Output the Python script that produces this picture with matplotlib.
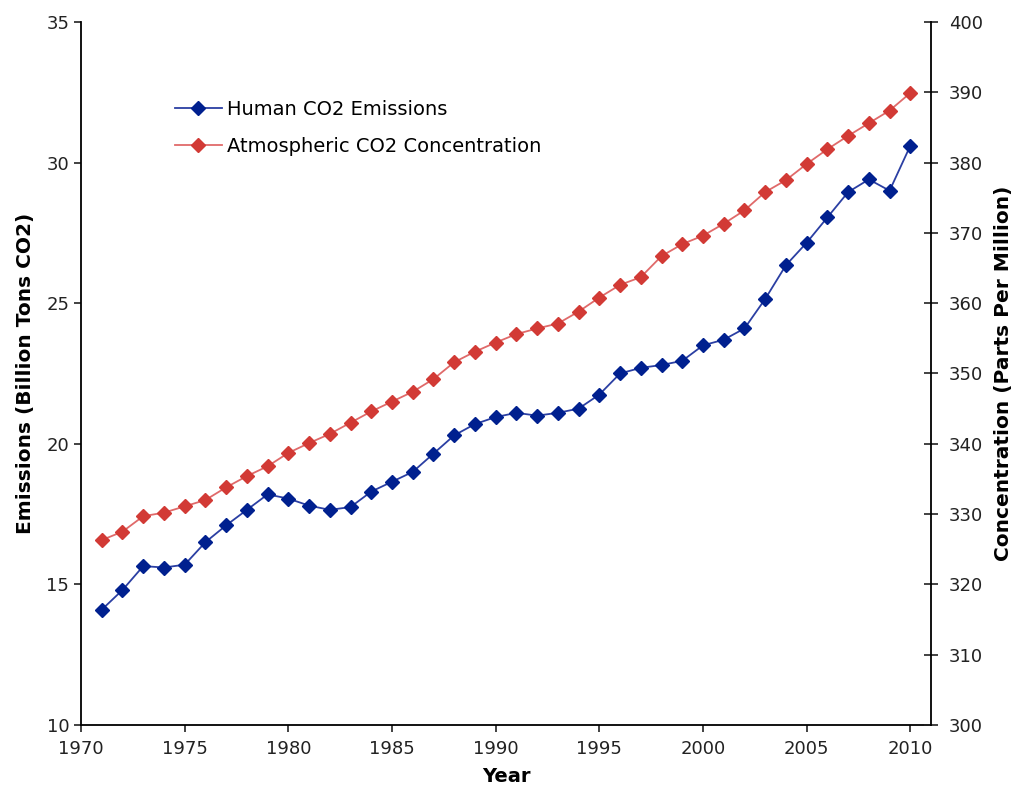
import matplotlib
matplotlib.use("Agg")
import matplotlib.pyplot as plt

years = list(range(1971, 2011))
emissions = [14.1, 14.8, 15.65, 15.6, 15.7, 16.5, 17.1, 17.65, 18.2, 18.05,
             17.8, 17.65, 17.75, 18.3, 18.65, 19.0, 19.65, 20.3, 20.7, 20.95,
             21.1, 21.0, 21.1, 21.25, 21.75, 22.5, 22.7, 22.8, 22.95, 23.5,
             23.7, 24.1, 25.15, 26.35, 27.15, 28.05, 28.95, 29.4, 29.0, 30.6]
concentration = [326.3, 327.5, 329.7, 330.2, 331.1, 332.0, 333.8, 335.4, 336.8, 338.7,
                 340.1, 341.4, 343.0, 344.6, 346.0, 347.4, 349.2, 351.6, 353.1, 354.4,
                 355.6, 356.4, 357.1, 358.8, 360.8, 362.6, 363.7, 366.7, 368.4, 369.6,
                 371.3, 373.2, 375.8, 377.5, 379.8, 381.9, 383.8, 385.6, 387.4, 389.9]
x_ticks = [1970, 1975, 1980, 1985, 1990, 1995, 2000, 2005, 2010]
left_ticks = [10, 15, 20, 25, 30, 35]
right_ticks = [300, 310, 320, 330, 340, 350, 360, 370, 380, 390, 400]

plt.rcParams['font.family'] = ['DejaVu Sans']
fig = plt.figure(figsize=(10.18, 7.98), dpi=100)
ax = fig.add_axes([0.0796, 0.0915, 0.835, 0.881])
ax2 = ax.twinx()

l1, = ax.plot(years, emissions, color='#2b3fa3', lw=1.3, marker='D', ms=7,
              mfc='#00208f', mec='#00208f', label='Human CO2 Emissions')
l2, = ax2.plot(years, concentration, color='#e06a6a', lw=1.3, marker='D', ms=7,
               mfc='#d23a35', mec='#d23a35', label='Atmospheric CO2 Concentration')

ax.set_xlim(1970, 2011)
ax.set_ylim(10, 35)
ax2.set_ylim(300, 400)
ax.set_xticks(x_ticks)
ax.set_yticks(left_ticks)
ax2.set_yticks(right_ticks)

for a in (ax, ax2):
    a.spines['top'].set_visible(False)
ax.spines['right'].set_visible(False)
for s in ('left', 'bottom'):
    ax.spines[s].set_linewidth(1.3)
ax2.spines['right'].set_linewidth(1.3)
ax2.spines['left'].set_visible(False)
ax2.spines['bottom'].set_visible(False)

ax.tick_params(axis='both', labelsize=13, direction='out', length=5, width=1.2, colors='#222222')
ax.tick_params(axis='x', pad=6)
ax2.tick_params(axis='y', labelsize=13, direction='inout', length=10, width=1.2, colors='#222222', pad=8)

ax.set_xlabel('Year', fontsize=14, fontweight='bold', labelpad=6)
ax.set_ylabel('Emissions (Billion Tons CO2)', fontsize=14.5, fontweight='bold', labelpad=8)
ax2.set_ylabel('Concentration (Parts Per Million)', fontsize=14.5, fontweight='bold', labelpad=8)

leg = ax.legend(handles=[l1, l2], loc='upper left', bbox_to_anchor=(0.1106, 0.889),
                frameon=False, fontsize=14, handlelength=2.4, labelspacing=0.92,
                handletextpad=0.25, borderpad=0, borderaxespad=0)

fig.savefig('out.png', dpi=100)
